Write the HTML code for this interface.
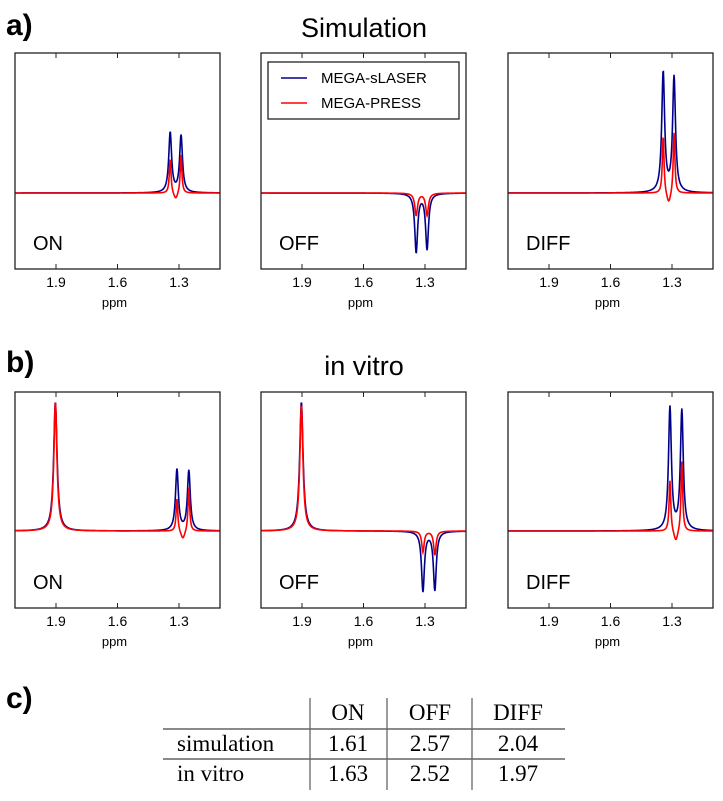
<!DOCTYPE html>
<html><head><meta charset="utf-8"><style>
body{margin:0;background:#fff;}
svg{display:block;font-family:"Liberation Sans","DejaVu Sans",sans-serif;}
</style></head><body>
<svg id="fig" width="723" height="801" viewBox="0 0 723 801">
<text x="6" y="35" font-size="30" font-weight="bold">a)</text>
<text x="364" y="37" font-size="27" text-anchor="middle">Simulation</text>
<text x="6" y="372" font-size="30" font-weight="bold">b)</text>
<text x="364" y="375" font-size="27" text-anchor="middle">in vitro</text>
<text x="6" y="708" font-size="30" font-weight="bold">c)</text>
<g id="table" font-family="'Liberation Serif',serif" font-size="23" text-anchor="middle">
<line x1="163" y1="729" x2="565" y2="729" stroke="#444" stroke-width="1.3"/>
<line x1="163" y1="759" x2="565" y2="759" stroke="#444" stroke-width="1.3"/>
<line x1="310" y1="698" x2="310" y2="790" stroke="#666" stroke-width="1.3"/>
<line x1="387" y1="698" x2="387" y2="790" stroke="#666" stroke-width="1.3"/>
<line x1="472" y1="698" x2="472" y2="790" stroke="#666" stroke-width="1.3"/>
<text x="348" y="720">ON</text>
<text x="430" y="720">OFF</text>
<text x="518" y="720">DIFF</text>
<text x="177" y="751" text-anchor="start">simulation</text>
<text x="348" y="751">1.61</text>
<text x="430" y="751">2.57</text>
<text x="518" y="751">2.04</text>
<text x="177" y="781" text-anchor="start">in vitro</text>
<text x="348" y="781">1.63</text>
<text x="430" y="781">2.52</text>
<text x="518" y="781">1.97</text>
</g>
</svg>
<script>
// peaks: [center ppm, amplitude, half-width ppm]
const xTicks = [1.9, 1.6, 1.3];
const panelLabels = ["ON", "OFF", "DIFF"];
const simOnBlue = [[1.343,1.0,0.0085],[1.29,0.95,0.0085]];
const simOnRed = [[1.343,0.58,0.005],[1.29,0.65,0.005],[1.316,-0.12,0.012]];
const simOffBlue = [[1.343,-0.98,0.0085],[1.29,-0.93,0.0085]];
const simOffRed = [[1.343,-0.37,0.008],[1.29,-0.37,0.008]];
const simDiffBlue = [[1.343,2.0,0.0085],[1.29,1.92,0.0085]];
const simDiffRed = [[1.343,0.97,0.005],[1.29,1.03,0.005],[1.316,-0.2,0.012]];
const vitroOnBlue = [[1.903,2.15,0.01],[1.31,1.02,0.0085],[1.252,1.0,0.0085]];
const vitroOnRed = [[1.903,2.15,0.009],[1.31,0.55,0.005],[1.252,0.74,0.005],[1.281,-0.15,0.012]];
const vitroOffBlue = [[1.903,2.15,0.01],[1.31,-1.0,0.0085],[1.252,-0.98,0.0085]];
const vitroOffRed = [[1.903,2.1,0.009],[1.31,-0.35,0.007],[1.252,-0.4,0.007]];
const vitroDiffBlue = [[1.31,2.05,0.0085],[1.252,2.0,0.0085]];
const vitroDiffRed = [[1.31,0.86,0.005],[1.252,1.18,0.005],[1.281,-0.2,0.012]];

const rows = [
  {top:53, bottom:269, base:193, series:[[simOnBlue,simOnRed],[simOffBlue,simOffRed],[simDiffBlue,simDiffRed]], name:"simulation"},
  {top:392, bottom:608, base:531, series:[[vitroOnBlue,vitroOnRed],[vitroOffBlue,vitroOffRed],[vitroDiffBlue,vitroDiffRed]], name:"in-vitro"}
];
const lefts = [15, 261, 508];
const W = 205, pxPerUnit = 60, ppmMax = 2.1, ppmMin = 1.1;
const NS = "http://www.w3.org/2000/svg";
const svg = document.getElementById("fig");
function mk(tag, attrs, parent){const e=document.createElementNS(NS,tag);for(const k in attrs)e.setAttribute(k,attrs[k]);(parent||svg).appendChild(e);return e;}
function spec(peaks, x){let s=0;for(const p of peaks){const d=x-p[0];s+=p[1]*p[2]*p[2]/(d*d+p[2]*p[2]);}return s;}

rows.forEach((row, ri) => {
  lefts.forEach((L, pi) => {
    const xs = v => L + (ppmMax - v) / (ppmMax - ppmMin) * W;
    const ys = v => row.base - v * pxPerUnit;
    const g = mk("g", {});
    
    
    const cid = "clip" + ri + pi;
    const cp = mk("clipPath", {id: cid}, g);
    mk("rect", {x: L, y: row.top, width: W, height: row.bottom - row.top}, cp);
    ["#00008b", "#ff0000"].forEach((col, si) => {
      const peaks = row.series[pi][si];
      let d = "";
      for (let i = 0; i <= 500; i++) {
        const v = ppmMax - i * (ppmMax - ppmMin) / 500;
        d += (i ? "L" : "M") + xs(v).toFixed(2) + "," + ys(spec(peaks, v)).toFixed(2);
      }
      const p = mk("path", {d: d, fill: "none", stroke: col, "stroke-width": 1.6, "clip-path": "url(#" + cid + ")"}, g);
      
      
    });
    const box = mk("rect", {x: L, y: row.top, width: W, height: row.bottom - row.top, fill: "none", stroke: "#222", "stroke-width": 1.3}, g);
    
    
    xTicks.forEach(t => {
      mk("line", {x1: xs(t), x2: xs(t), y1: row.bottom, y2: row.bottom - 5, stroke: "#222", "stroke-width": 1}, g);
      mk("line", {x1: xs(t), x2: xs(t), y1: row.top, y2: row.top + 5, stroke: "#222", "stroke-width": 1}, g);
      const tl = mk("text", {x: xs(t), y: row.bottom + 18, "font-size": 14, "text-anchor": "middle"}, g);
      tl.textContent = t.toFixed(1);
      
      
    });
    const xl = mk("text", {x: L + W / 2 - 3, y: row.bottom + 38, "font-size": 13, "text-anchor": "middle"}, g);
    xl.textContent = "ppm";
    
    
    const pl = mk("text", {x: L + 18, y: row.bottom - 19, "font-size": 20}, g);
    pl.textContent = panelLabels[pi];
    
    
  });
});
// legend
const lg = mk("g", {});


mk("rect", {x: 268, y: 62, width: 191, height: 57, fill: "#fff", stroke: "#222", "stroke-width": 1.3}, lg);
[["MEGA-sLASER", "#00008b", 78], ["MEGA-PRESS", "#ff0000", 103]].forEach(e => {
  const le = mk("g", {}, lg);
  
  
  mk("line", {x1: 281, x2: 307, y1: e[2], y2: e[2], stroke: e[1], "stroke-width": 1.6}, le);
  const t = mk("text", {x: 321, y: e[2] + 5, "font-size": 15}, le);
  t.textContent = e[0];
});
</script>
</body></html>
